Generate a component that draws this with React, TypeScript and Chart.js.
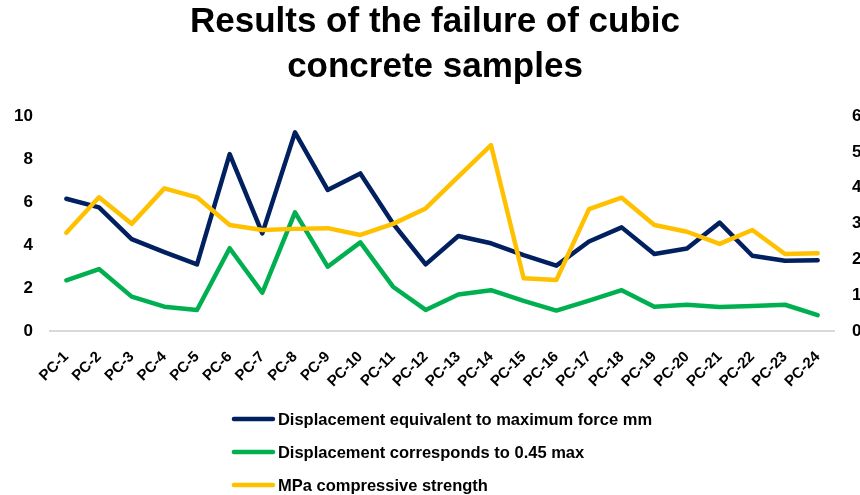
import { useEffect, useRef } from "react";
import { Chart, registerables } from "chart.js";

Chart.register(...registerables);

// Sample names along the x axis
const categories = [
  "PC-1", "PC-2", "PC-3", "PC-4", "PC-5", "PC-6", "PC-7", "PC-8",
  "PC-9", "PC-10", "PC-11", "PC-12", "PC-13", "PC-14", "PC-15", "PC-16",
  "PC-17", "PC-18", "PC-19", "PC-20", "PC-21", "PC-22", "PC-23", "PC-24",
];

// Displacement at maximum force (mm), left axis
const maxForceDisplacement = [
  6.15, 5.75, 4.27, 3.67, 3.1, 8.23, 4.54, 9.24, 6.56, 7.33, 5.0, 3.1,
  4.42, 4.08, 3.53, 3.04, 4.16, 4.82, 3.58, 3.84, 5.04, 3.5, 3.27, 3.29,
];

// Displacement at 0.45 of maximum force, left axis
const displacementAt045 = [
  2.36, 2.88, 1.6, 1.13, 0.98, 3.85, 1.78, 5.52, 2.99, 4.12, 2.06, 0.98,
  1.7, 1.9, 1.4, 0.95, 1.41, 1.9, 1.13, 1.22, 1.12, 1.16, 1.22, 0.74,
];

// Compressive strength (MPa), right axis
const compressiveStrength = [
  2.74, 3.73, 2.99, 3.98, 3.73, 2.96, 2.82, 2.85, 2.87, 2.68, 2.99, 3.42,
  4.31, 5.19, 1.47, 1.42, 3.4, 3.72, 2.96, 2.77, 2.43, 2.82, 2.15, 2.17,
];

const seriesLabels = [
  "Displacement equivalent to maximum force mm",
  "Displacement corresponds to 0.45 max",
  "MPa compressive strength",
];

const titleLines = ["Results of the failure of cubic", "concrete samples"];

// Axis ranges: [min, max, step]
const leftAxisRange = [0, 10, 2];
const rightAxisRange = [0, 6, 1];

const FONT_FAMILY = '"Liberation Sans", Arial, Helvetica, sans-serif';

// Vertical legend, one series per row, centred under the plot area
const stackedLegend = {
  id: "stackedLegend",
  afterDraw(chart: any) {
    const ctx: CanvasRenderingContext2D = chart.ctx;
    const { left, right } = chart.chartArea;
    ctx.save();
    ctx.font = `bold 16.5px ${FONT_FAMILY}`;
    const items = chart.data.datasets.map((ds: any) => ({
      text: ds.label as string,
      color: ds.borderColor as string,
    }));
    const sampleW = 43;
    const gap = 3;
    const maxW = Math.max(...items.map((it: any) => ctx.measureText(it.text).width));
    const blockW = sampleW + gap + maxW;
    const x0 = (left + right) / 2 - blockW / 2;
    const rowH = 33;
    const y0 = chart.height - 76;
    items.forEach((it: any, i: number) => {
      const y = y0 + i * rowH;
      ctx.strokeStyle = it.color;
      ctx.lineWidth = 4.5;
      ctx.lineCap = "round";
      ctx.beginPath();
      ctx.moveTo(x0 + 2, y);
      ctx.lineTo(x0 + sampleW - 2, y);
      ctx.stroke();
      ctx.fillStyle = "#000000";
      ctx.textAlign = "left";
      ctx.textBaseline = "middle";
      ctx.fillText(it.text, x0 + sampleW + gap, y + 1);
    });
    ctx.restore();
  },
};

export default function App() {
  const canvasRef = useRef<HTMLCanvasElement | null>(null);

  useEffect(() => {
    const canvas = canvasRef.current;
    if (!canvas) return;

    const tickFont = { family: FONT_FAMILY, size: 17, weight: "bold" as const };

    const chart = new Chart(canvas, {
      type: "line",
      data: {
        labels: categories,
        datasets: [
          {
            label: seriesLabels[0],
            data: maxForceDisplacement,
            borderColor: "#002060",
            backgroundColor: "#002060",
            yAxisID: "y",
            order: 2,
          },
          {
            label: seriesLabels[1],
            data: displacementAt045,
            borderColor: "#00B050",
            backgroundColor: "#00B050",
            yAxisID: "y",
            order: 1,
          },
          {
            label: seriesLabels[2],
            data: compressiveStrength,
            borderColor: "#FFC000",
            backgroundColor: "#FFC000",
            yAxisID: "y1",
            order: 0,
          },
        ],
      },
      options: {
        responsive: false,
        animation: false,
        layout: { padding: { top: 0, left: 0, right: 0, bottom: 0 } },
        elements: {
          line: { borderWidth: 4.5, tension: 0, borderJoinStyle: "round", borderCapStyle: "round" },
          point: { radius: 0, hoverRadius: 0 },
        },
        plugins: {
          legend: { display: false },
          tooltip: { enabled: false },
          title: {
            display: true,
            text: titleLines,
            color: "#000000",
            font: { family: FONT_FAMILY, size: 35, weight: "bold", lineHeight: "45px" },
            padding: { top: 0, bottom: 26 },
          },
        },
        scales: {
          x: {
            offset: true,
            grid: { display: false, drawTicks: false },
            border: { display: true, color: "#d9d9d9", width: 2 },
            ticks: {
              autoSkip: false,
              minRotation: 45,
              maxRotation: 45,
              padding: 17,
              color: "#000000",
              font: { family: FONT_FAMILY, size: 15, weight: "bold" },
            },
            afterFit: (scale: any) => {
              scale.height = 164;
            },
          },
          y: {
            position: "left",
            min: leftAxisRange[0],
            max: leftAxisRange[1],
            grid: { display: false, drawTicks: false },
            border: { display: false },
            ticks: {
              stepSize: leftAxisRange[2],
              padding: 17,
              color: "#000000",
              font: tickFont,
            },
            afterFit: (scale: any) => {
              scale.width = 50;
            },
          },
          y1: {
            position: "right",
            min: rightAxisRange[0],
            max: rightAxisRange[1],
            grid: { display: false, drawTicks: false },
            border: { display: false },
            ticks: {
              stepSize: rightAxisRange[2],
              padding: 18,
              color: "#000000",
              font: tickFont,
            },
            afterFit: (scale: any) => {
              scale.width = 36;
            },
          },
        },
      },
      plugins: [stackedLegend],
    });

    return () => {
      chart.destroy();
    };
  }, []);

  return (
    <div
      style={{
        position: "absolute",
        left: 0,
        top: 0,
        width: 860,
        height: 495,
        overflow: "hidden",
        background: "#ffffff",
      }}
    >
      <canvas ref={canvasRef} width={870} height={495} style={{ width: 870, height: 495, display: "block" }} />
    </div>
  );
}
